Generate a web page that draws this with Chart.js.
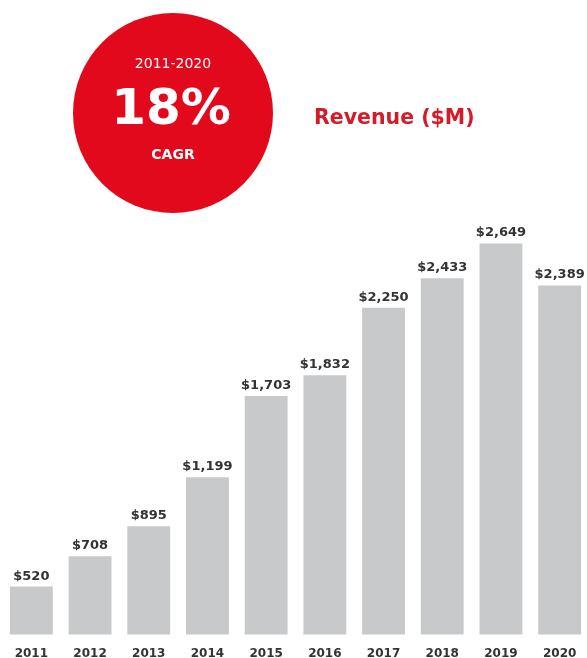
<!DOCTYPE html>
<html>
<head>
<meta charset="utf-8">
<script src="https://cdn.jsdelivr.net/npm/chart.js@4/dist/chart.umd.min.js"></script>
<style>
  html, body { margin: 0; padding: 0; background: #ffffff; overflow: hidden; }
  #wrap { position: relative; width: 589px; height: 658px; overflow: hidden; }
</style>
</head>
<body>
<div id="wrap"><canvas id="c" width="589" height="673"></canvas></div>
<script>
// Annual revenue, $M
const years = ['2011', '2012', '2013', '2014', '2015', '2016', '2017', '2018', '2019', '2020'];
const revenue = [520, 708, 895, 1199, 1703, 1832, 2250, 2433, 2649, 2389];
const valueLabels = ['$520', '$708', '$895', '$1,199', '$1,703', '$1,832', '$2,250', '$2,433', '$2,649', '$2,389'];

const badgeLines = ['2011-2020', '18%', 'CAGR'];
const chartTitle = 'Revenue ($M)';

const labelFont = 'bold 13px "DejaVu Sans", sans-serif';

// Value captions above each bar
const valueLabelPlugin = {
  id: 'valueLabels',
  afterDatasetsDraw(chart) {
    const ctx = chart.ctx;
    const meta = chart.getDatasetMeta(0);
    ctx.save();
    ctx.font = labelFont;
    ctx.fillStyle = '#333333';
    ctx.textAlign = 'center';
    ctx.textBaseline = 'alphabetic';
    meta.data.forEach((bar, i) => {
      ctx.fillText(valueLabels[i], bar.x, bar.y - 7);
    });
    ctx.restore();
  }
};

// Red CAGR badge and the chart heading
const headerPlugin = {
  id: 'header',
  afterDraw(chart) {
    const ctx = chart.ctx;
    ctx.save();
    ctx.fillStyle = '#e2091c';
    ctx.beginPath();
    ctx.arc(173, 113, 100, 0, Math.PI * 2);
    ctx.fill();

    ctx.fillStyle = '#ffffff';
    ctx.textAlign = 'center';
    ctx.textBaseline = 'middle';
    ctx.font = '14px "DejaVu Sans", sans-serif';
    ctx.fillText(badgeLines[0], 173, 64);
    ctx.font = 'bold 50px "DejaVu Sans", sans-serif';
    ctx.fillText(badgeLines[1], 171, 111);
    ctx.font = 'bold 14px "DejaVu Sans", sans-serif';
    ctx.fillText(badgeLines[2], 173, 155);

    ctx.fillStyle = '#d51a28';
    ctx.textAlign = 'left';
    ctx.font = 'bold 20.5px "DejaVu Sans", sans-serif';
    ctx.fillText(chartTitle, 314, 119);
    ctx.restore();
  }
};

new Chart(document.getElementById('c'), {
  type: 'bar',
  data: {
    labels: years,
    datasets: [{
      data: revenue,
      backgroundColor: '#c8c9ca',
      borderWidth: 0,
      categoryPercentage: 0.73,
      barPercentage: 1.0
    }]
  },
  options: {
    responsive: false,
    animation: false,
    layout: { padding: { left: 2, right: 0, top: 0, bottom: 0 } },
    plugins: { legend: { display: false }, tooltip: { enabled: false } },
    scales: {
      x: {
        grid: { display: false, drawTicks: false },
        border: { display: false },
        ticks: {
          font: { family: '"DejaVu Sans", sans-serif', size: 12, weight: 'bold' },
          color: '#333333',
          padding: 12,
          maxRotation: 0
        }
      },
      y: {
        display: false,
        min: 222,
        max: 4160
      }
    }
  },
  plugins: [valueLabelPlugin, headerPlugin]
});
</script>
</body>
</html>
